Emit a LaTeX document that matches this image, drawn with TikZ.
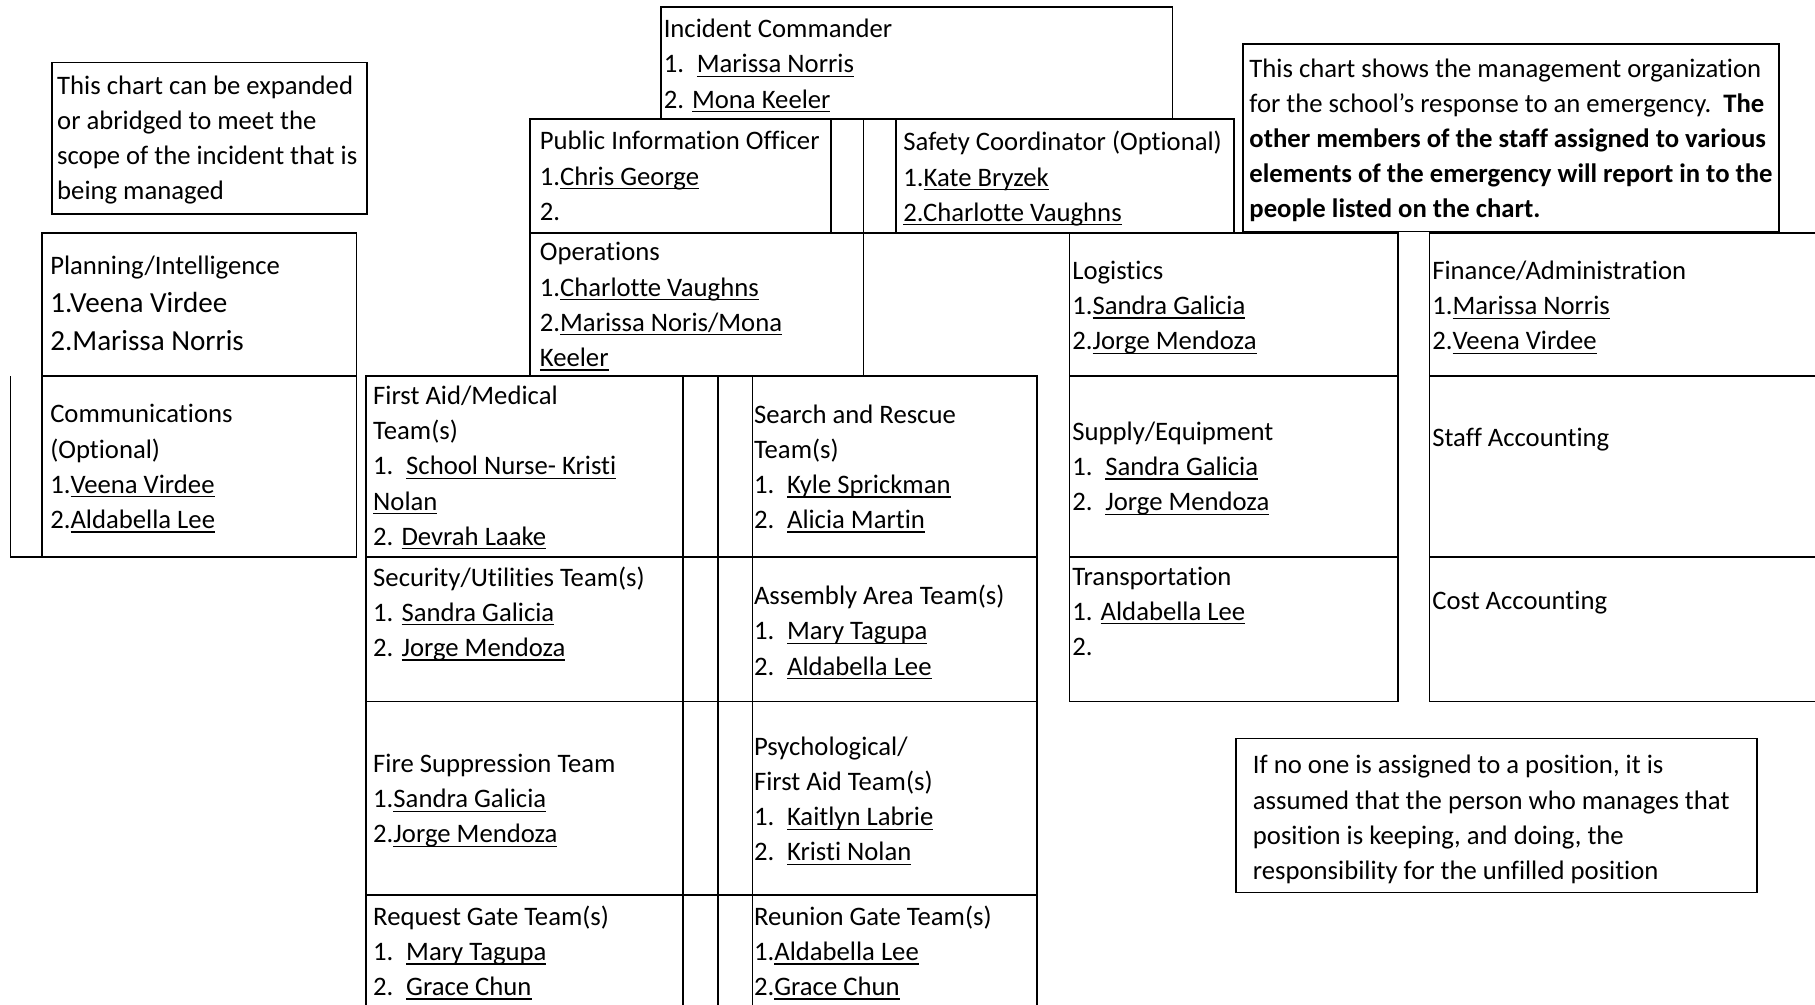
\documentclass[tikz,border=0pt]{standalone}
\usepackage{fontspec}
\setmainfont{Carlito}[Ligatures=NoCommon]
\usepackage{tikz}
\newcommand\cellfont{\fontsize{11pt}{14.5pt}\selectfont}
\newcommand\bigfont{\fontsize{12pt}{15.5pt}\selectfont}
\newcommand\ulname[1]{\setbox0=\hbox{#1}\rlap{\rule[-1.7pt]{\wd0}{0.55pt}}\box0}
\newcommand\tabnum[1]{\makebox[13.6pt][l]{#1}}
\newcommand\firstline{\rule{0pt}{10pt}}
\tikzset{
  cell/.style={draw=black, line width=0.7pt},
  txt/.style={
    anchor=north west,
    inner sep=0pt,
    align=left,
    font=\cellfont,
    yshift=7.1pt,
    execute at begin node=\firstline
  }
}

\begin{document}
\begin{tikzpicture}[x=0.477pt, y=-0.477pt]
\useasboundingbox (0,0) rectangle (1568,868);

\draw[cell] (45,54) rectangle (317,185);
\draw[cell] (1074,38) rectangle (1537,200);
\draw[cell] (1068,638) rectangle (1518,771);

\draw[cell] (571,6) rectangle (1013,103);
\draw[cell] (458,103) rectangle (718,201);
\draw[cell] (718,103) rectangle (746,201);
\draw[cell] (746,103) rectangle (774,201);
\draw[cell] (774,103) rectangle (1066,201);
\draw[cell] (458,201) rectangle (746,325);

\draw[cell] (36,201) rectangle (308,325);
\draw[cell] (36,325) rectangle (308,481);
\draw[cell] (9,325) |- (36,481);

\foreach \ya/\yb in {325/481,481/606,606/773,773/880}{
  \draw[cell] (316,\ya) rectangle (590,\yb);
  \draw[cell] (590,\ya) rectangle (620,\yb);
  \draw[cell] (620,\ya) rectangle (650,\yb);
  \draw[cell] (650,\ya) rectangle (896,\yb);
}
\foreach \ya/\yb in {201/325,325/481,481/606}{
  \draw[cell] (924,\ya) rectangle (1208,\yb);
  \draw[cell] (1235,\ya) rectangle (1590,\yb);
}

\node[txt] (note1) at (49,80) {This chart can be expanded\\or abridged to meet the\\scope of the incident that is\\being managed};
\node[txt] (ic) at (573,31) {Incident Commander\\\tabnum{1.}\ulname{Marissa Norris}\\2. \ulname{Mona Keeler}};
\node[txt] (pio) at (466,128) {Public Information Officer\\1.\ulname{Chris George}\\2.};
\node[txt] (safety) at (780,128) {Safety Coordinator (Optional)\\1.\ulname{Kate Bryzek}\\\ulname{2.Charlotte Vaughns}};
\node[txt] (note2) at (1079,65) {This chart shows the management organization\\for the school’s response to an emergency.\ \ \textbf{The}\\\textbf{other members of the staff assigned to various}\\\textbf{elements of the emergency will report in to the}\\\textbf{people listed on the chart.}};
\node[txt] (ops) at (466,224) {Operations\\1.\ulname{Charlotte Vaughns}\\2.\ulname{Marissa Noris/Mona}\\\ulname{Keeler}};
\node[txt] (plan) at (43,236) {Planning/Intelligence\\[1pt]{\bigfont 1.Veena Virdee}\\[1.2pt]{\bigfont 2.Marissa Norris}};
\node[txt] (comm) at (43,364) {Communications\\(Optional)\\1.\ulname{Veena Virdee}\\2.\ulname{Aldabella Lee}};
\node[txt] (aid) at (322,348) {First Aid/Medical\\Team(s)\\\tabnum{1.}\ulname{School Nurse- Kristi}\\\ulname{Nolan}\\2. \ulname{Devrah Laake}};
\node[txt] (rescue) at (651,364) {Search and Rescue\\Team(s)\\\tabnum{1.}\ulname{Kyle Sprickman}\\\tabnum{2.}\ulname{Alicia Martin}};
\node[txt] (security) at (322,504) {Security/Utilities Team(s)\\1. \ulname{Sandra Galicia}\\2. \ulname{Jorge Mendoza}};
\node[txt] (assembly) at (651,520) {Assembly Area Team(s)\\\tabnum{1.}\ulname{Mary Tagupa}\\\tabnum{2.}\ulname{Aldabella Lee}};
\node[txt] (fire) at (322,666) {Fire Suppression Team\\1.\ulname{Sandra Galicia}\\2.\ulname{Jorge Mendoza}};
\node[txt] (psych) at (651,651) {Psychological/\\First Aid Team(s)\\\tabnum{1.}\ulname{Kaitlyn Labrie}\\\tabnum{2.}\ulname{Kristi Nolan}};
\node[txt] (request) at (322,797) {Request Gate Team(s)\\\tabnum{1.}\ulname{Mary Tagupa}\\\tabnum{2.}\ulname{Grace Chun}};
\node[txt] (reunion) at (651,797) {Reunion Gate Team(s)\\1.\ulname{Aldabella Lee}\\2.\ulname{Grace Chun}};
\node[txt] (logi) at (926,240) {Logistics\\1.\ulname{Sandra Galicia}\\2.\ulname{Jorge Mendoza}};
\node[txt] (supply) at (926,379) {Supply/Equipment\\\tabnum{1.}\ulname{Sandra Galicia}\\\tabnum{2.}\ulname{Jorge Mendoza}};
\node[txt] (transport) at (926,504) {Transportation\\1. \ulname{Aldabella Lee}\\2.};
\node[txt] (finance) at (1237,240) {Finance/Administration\\1.\ulname{Marissa Norris}\\2.\ulname{Veena Virdee}};
\node[txt] (staff) at (1237,379) {Staff Accounting};
\node[txt] (cost) at (1237,520) {Cost Accounting};
\node[txt] (note3) at (1082,667) {If no one is assigned to a position, it is\\assumed that the person who manages that\\position is keeping, and doing, the\\responsibility for the unfilled position};
\end{tikzpicture}
\end{document}
